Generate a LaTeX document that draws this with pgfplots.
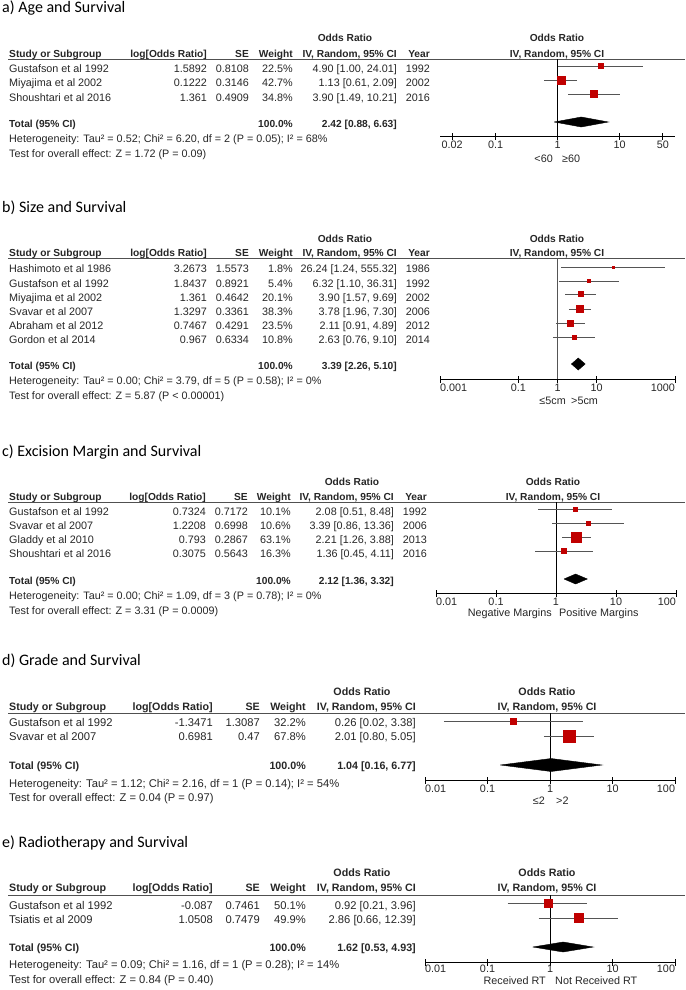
\documentclass[border=0pt]{standalone}
\usepackage{fontspec}
\setmainfont{Liberation Sans}
\newfontfamily\titlefont{Carlito}
\usepackage{pgfplots}
\pgfplotsset{compat=1.18}

\definecolor{sqred}{HTML}{C00000}
\definecolor{cigray}{HTML}{555555}
\definecolor{txt}{HTML}{262626}
\definecolor{rulegray}{HTML}{505050}

\pgfplotsset{
  every axis/.append style={
    scale only axis, clip=false,
    axis x line=bottom, axis y line=none, ytick=\empty,
    axis line style={-, black, line width=0.8pt},
    xminorticks=false, tick align=center, major tick length=7pt,
    xtick style={black, line width=0.8pt},
    xticklabel style={font=\fontsize{10.8}{13}\selectfont, text=txt, inner sep=1pt},
  },
  myci/.style={draw=cigray, line width=0.8pt, no markers},
  myvline/.style={draw=black, line width=0.8pt, no markers},
  mysq/.style={only marks, mark=square*, mark options={fill=sqred, draw=sqred}},
  mydia/.style={fill=black, draw=black, no markers},
}
% end tick labels are kept inside the axis, as RevMan does
\newcommand\Lft[1]{\makebox[0pt][l]{#1}}
\newcommand\Rgt[1]{\makebox[0pt][r]{#1}}

% table helpers (coordinates in pixels of the 685x990 page, y = centre of the text line)
\newcommand\cA{207}\newcommand\cB{249}\newcommand\cC{293}\newcommand\cD{397}\newcommand\cE{430}
\newcommand\bfs{10.2}
\newcommand\TL[3]{\node[anchor=base west,inner sep=0pt] at (#1pt,{-(#2+4)*1pt}) {#3};}
\newcommand\TR[3]{\node[anchor=base east,inner sep=0pt] at (#1pt,{-(#2+4)*1pt}) {#3};}
\newcommand\TC[3]{\node[anchor=base,inner sep=0pt] at (#1pt,{-(#2+4)*1pt}) {#3};}
\newcommand\B[1]{{\fontsize{\bfs}{12}\selectfont\bfseries #1}}
\newcommand\Row[7]{\TL{9}{#1}{#2}\TR{\cA}{#1}{#3}\TR{\cB}{#1}{#4}\TR{\cC}{#1}{#5}\TR{\cD}{#1}{#6}\TR{\cE}{#1}{#7}}
\newcommand\Head[5]{% y1 (Odds Ratio), y2 (header row), centre of table OR, centre of plot header, year header
  \TC{#3}{#1}{\B{Odds Ratio}}\TC{#4}{#1}{\B{Odds Ratio}}
  \TL{9}{#2}{\B{Study or Subgroup}}\TR{\cA}{#2}{\B{log[Odds Ratio]}}
  \TR{\cB}{#2}{\B{SE}}\TR{\cC}{#2}{\B{Weight}}
  \TR{\cD}{#2}{\B{IV, Random, 95\% CI}}\TR{\cE}{#2}{\B{#5}}
  \TC{#4}{#2}{\B{IV, Random, 95\% CI}}}
\newcommand\Total[3]{\TL{9}{#1}{\B{Total (95\% CI)}}\TR{\cC}{#1}{\B{#2}}\TR{\cD}{#1}{\B{#3}}}
\newcommand\Title[2]{\node[anchor=base west,inner sep=0pt,font=\titlefont\fontsize{16}{19}\selectfont,text=black] at (2pt,-#1pt) {#2};}
\newcommand\Rule[1]{\draw[rulegray,line width=0.9pt] (8pt,-#1pt) -- (685pt,-#1pt);}

\begin{document}
\begin{tikzpicture}[font=\fontsize{10.8}{13}\selectfont,text=txt]
\path[use as bounding box] (0pt,0pt) rectangle (685pt,-990pt);

% ---------------- a) Age and Survival
\Title{13}{a) Age and Survival}
\Head{38}{53}{345}{557}{Year}
\Rule{59}
\Row{68}{Gustafson et al 1992}{1.5892}{0.8108}{22.5\%}{4.90 [1.00, 24.01]}{1992}
\Row{82}{Miyajima et al 2002}{0.1222}{0.3146}{42.7\%}{1.13 [0.61, 2.09]}{2002}
\Row{97}{Shoushtari et al 2016}{1.361}{0.4909}{34.8\%}{3.90 [1.49, 10.21]}{2016}
\Total{123}{100.0\%}{2.42 [0.88, 6.63]}
\TL{9}{138}{Heterogeneity: Tau² = 0.52; Chi² = 6.20, df = 2 (P = 0.05); I² = 68\%}
\TL{9}{153}{Test for overall effect: Z = 1.72 (P = 0.09)}
\begin{axis}[xmode=log, at={(440pt,-136pt)}, anchor=south west, width=235pt, height=77pt,
  xmin=0.01273, xmax=78.55, ymin=-136, ymax=-59,
  xtick={0.02,0.1,1,10,50}, xticklabels={0.02,0.1,1,10,50}]
\addplot[myvline] coordinates {(1,-59) (1,-136)};
\addplot[myci] coordinates {(1.00,-66) (24.01,-66)};
\addplot[myci] coordinates {(0.61,-80) (2.09,-80)};
\addplot[myci] coordinates {(1.49,-94) (10.21,-94)};
\addplot[mysq, mark size=2.5] coordinates {(4.90,-66)};
\addplot[mysq, mark size=4] coordinates {(1.13,-80)};
\addplot[mysq, mark size=3.5] coordinates {(3.90,-94)};
\addplot[mydia] coordinates {(0.88,-122) (2.42,-117) (6.63,-122) (2.42,-127) (0.88,-122)};
\end{axis}
\TR{553}{158}{<60}\TL{562}{158}{≥60}

% ---------------- b) Size and Survival
\Title{212}{b) Size and Survival}
\Head{238}{252}{345}{557}{Year}
\Rule{258}
\Row{268}{Hashimoto et al 1986}{3.2673}{1.5573}{1.8\%}{26.24 [1.24, 555.32]}{1986}
\Row{283}{Gustafson et al 1992}{1.8437}{0.8921}{5.4\%}{6.32 [1.10, 36.31]}{1992}
\Row{297}{Miyajima et al 2002}{1.361}{0.4642}{20.1\%}{3.90 [1.57, 9.69]}{2002}
\Row{311}{Svavar et al 2007}{1.3297}{0.3361}{38.3\%}{3.78 [1.96, 7.30]}{2006}
\Row{325}{Abraham et al 2012}{0.7467}{0.4291}{23.5\%}{2.11 [0.91, 4.89]}{2012}
\Row{339}{Gordon et al 2014}{0.967}{0.6334}{10.8\%}{2.63 [0.76, 9.10]}{2014}
\Total{365}{100.0\%}{3.39 [2.26, 5.10]}
\TL{9}{380}{Heterogeneity: Tau² = 0.00; Chi² = 3.79, df = 5 (P = 0.58); I² = 0\%}
\TL{9}{395}{Test for overall effect: Z = 5.87 (P < 0.00001)}
\begin{axis}[xmode=log, at={(440pt,-379pt)}, anchor=south west, width=235pt, height=121pt,
  xmin=0.001, xmax=1000, ymin=-379, ymax=-258,
  xtick={0.001,0.1,1,10,1000}, xticklabels={\Lft{0.001},0.1,1,10,\Rgt{1000}}]
\addplot[myvline, draw=cigray] coordinates {(1,-258) (1,-379)};
\addplot[myci] coordinates {(1.24,-267) (555.32,-267)};
\addplot[myci] coordinates {(1.10,-281) (36.31,-281)};
\addplot[myci] coordinates {(1.57,-294) (9.69,-294)};
\addplot[myci] coordinates {(1.96,-309) (7.30,-309)};
\addplot[myci] coordinates {(0.91,-323) (4.89,-323)};
\addplot[myci] coordinates {(0.76,-337) (9.10,-337)};
\addplot[mysq, mark size=1] coordinates {(26.24,-267)};
\addplot[mysq, mark size=1.5] coordinates {(6.32,-281)};
\addplot[mysq, mark size=2.6] coordinates {(3.90,-294)};
\addplot[mysq, mark size=3.5] coordinates {(3.78,-309)};
\addplot[mysq, mark size=2.8] coordinates {(2.11,-323)};
\addplot[mysq, mark size=1.8] coordinates {(2.63,-337)};
\addplot[mydia] coordinates {(2.26,-364) (3.39,-358) (5.10,-364) (3.39,-370) (2.26,-364)};
\end{axis}
\TR{566}{400}{≤5cm}\TL{571}{400}{>5cm}

% ---------------- c) Excision Margin and Survival
\renewcommand\cA{206}\renewcommand\cB{248}\renewcommand\cC{291}\renewcommand\cD{394}\renewcommand\cE{427}
\Title{456}{c) Excision Margin and Survival}
\Head{481}{496}{352}{553}{Year}
\Rule{502}
\Row{511}{Gustafson et al 1992}{0.7324}{0.7172}{10.1\%}{2.08 [0.51, 8.48]}{1992}
\Row{525}{Svavar et al 2007}{1.2208}{0.6998}{10.6\%}{3.39 [0.86, 13.36]}{2006}
\Row{539}{Gladdy et al 2010}{0.793}{0.2867}{63.1\%}{2.21 [1.26, 3.88]}{2013}
\Row{553}{Shoushtari et al 2016}{0.3075}{0.5643}{16.3\%}{1.36 [0.45, 4.11]}{2016}
\Total{580}{100.0\%}{2.12 [1.36, 3.32]}
\TL{9}{595}{Heterogeneity: Tau² = 0.00; Chi² = 1.09, df = 3 (P = 0.78); I² = 0\%}
\TL{9}{610}{Test for overall effect: Z = 3.31 (P = 0.0009)}
\begin{axis}[xmode=log, at={(436pt,-593pt)}, anchor=south west, width=240pt, height=91pt,
  xmin=0.01, xmax=100, ymin=-593, ymax=-502,
  xtick={0.01,0.1,1,10,100}, xticklabels={\Lft{0.01},0.1,1,10,\Rgt{100}}]
\addplot[myvline] coordinates {(1,-502) (1,-593)};
\addplot[myci] coordinates {(0.51,-509) (8.48,-509)};
\addplot[myci] coordinates {(0.86,-523) (13.36,-523)};
\addplot[myci] coordinates {(1.26,-537) (3.88,-537)};
\addplot[myci] coordinates {(0.45,-551) (4.11,-551)};
\addplot[mysq, mark size=2] coordinates {(2.08,-509)};
\addplot[mysq, mark size=2] coordinates {(3.39,-523)};
\addplot[mysq, mark size=5] coordinates {(2.21,-537)};
\addplot[mysq, mark size=2.5] coordinates {(1.36,-551)};
\addplot[mydia] coordinates {(1.36,-579) (2.12,-574) (3.32,-579) (2.12,-584) (1.36,-579)};
\end{axis}
\TR{552}{612}{Negative Margins}\TL{559}{612}{Positive Margins}

% ---------------- d) Grade and Survival
\renewcommand\cA{213}\renewcommand\cB{260}\renewcommand\cC{306}\renewcommand\cD{416}\renewcommand\cE{416}
\renewcommand\bfs{10.7}
\begin{scope}[font=\fontsize{11.2}{13.5}\selectfont]
\Title{665}{d) Grade and Survival}
\Head{691}{706}{362}{547}{}
\Rule{713}
\Row{722}{Gustafson et al 1992}{-1.3471}{1.3087}{32.2\%}{0.26 [0.02, 3.38]}{}
\Row{736}{Svavar et al 2007}{0.6981}{0.47}{67.8\%}{2.01 [0.80, 5.05]}{}
\Total{765}{100.0\%}{1.04 [0.16, 6.77]}
\TL{9}{783}{Heterogeneity: Tau² = 1.12; Chi² = 2.16, df = 1 (P = 0.14); I² = 54\%}
\TL{9}{797}{Test for overall effect: Z = 0.04 (P = 0.97)}
\end{scope}
\begin{axis}[xmode=log, at={(425pt,-780pt)}, anchor=south west, width=250pt, height=67pt,
  xmin=0.01, xmax=100, ymin=-780, ymax=-713,
  xtick={0.01,0.1,1,10,100}, xticklabels={\Lft{0.01},0.1,1,10,\Rgt{100}}]
\addplot[myvline] coordinates {(1,-713) (1,-780)};
\addplot[myci] coordinates {(0.02,-721) (3.38,-721)};
\addplot[myci] coordinates {(0.80,-736) (5.05,-736)};
\addplot[mysq, mark size=3] coordinates {(0.26,-721)};
\addplot[mysq, mark size=6] coordinates {(2.01,-736)};
\addplot[mydia] coordinates {(0.16,-765) (1.04,-758.5) (6.77,-765) (1.04,-771.5) (0.16,-765)};
\end{axis}
\TR{545}{800}{≤2}\TL{556}{800}{>2}

% ---------------- e) Radiotherapy and Survival
\begin{scope}[font=\fontsize{11.2}{13.5}\selectfont]
\Title{847}{e) Radiotherapy and Survival}
\Head{872}{887}{362}{547}{}
\Rule{895}
\Row{905}{Gustafson et al 1992}{-0.087}{0.7461}{50.1\%}{0.92 [0.21, 3.96]}{}
\Row{919}{Tsiatis et al 2009}{1.0508}{0.7479}{49.9\%}{2.86 [0.66, 12.39]}{}
\Total{947}{100.0\%}{1.62 [0.53, 4.93]}
\TL{9}{964}{Heterogeneity: Tau² = 0.09; Chi² = 1.16, df = 1 (P = 0.28); I² = 14\%}
\TL{9}{979}{Test for overall effect: Z = 0.84 (P = 0.40)}
\end{scope}
\begin{axis}[xmode=log, at={(425pt,-962pt)}, anchor=south west, width=250pt, height=67pt,
  xmin=0.01, xmax=100, ymin=-962, ymax=-895,
  xtick={0.01,0.1,1,10,100}, xticklabels={\Lft{0.01},0.1,1,10,\Rgt{100}},
  xticklabel style={yshift=1.5pt}]
\addplot[myvline] coordinates {(1,-895) (1,-962)};
\addplot[myci] coordinates {(0.21,-903) (3.96,-903)};
\addplot[myci] coordinates {(0.66,-918) (12.39,-918)};
\addplot[mysq, mark size=4] coordinates {(0.92,-903)};
\addplot[mysq, mark size=4.5] coordinates {(2.86,-918)};
\addplot[mydia] coordinates {(0.53,-947) (1.62,-942) (4.93,-947) (1.62,-952) (0.53,-947)};
\end{axis}
\TR{546}{980}{Received RT}\TL{555}{980}{Not Received RT}
\end{tikzpicture}
\end{document}
